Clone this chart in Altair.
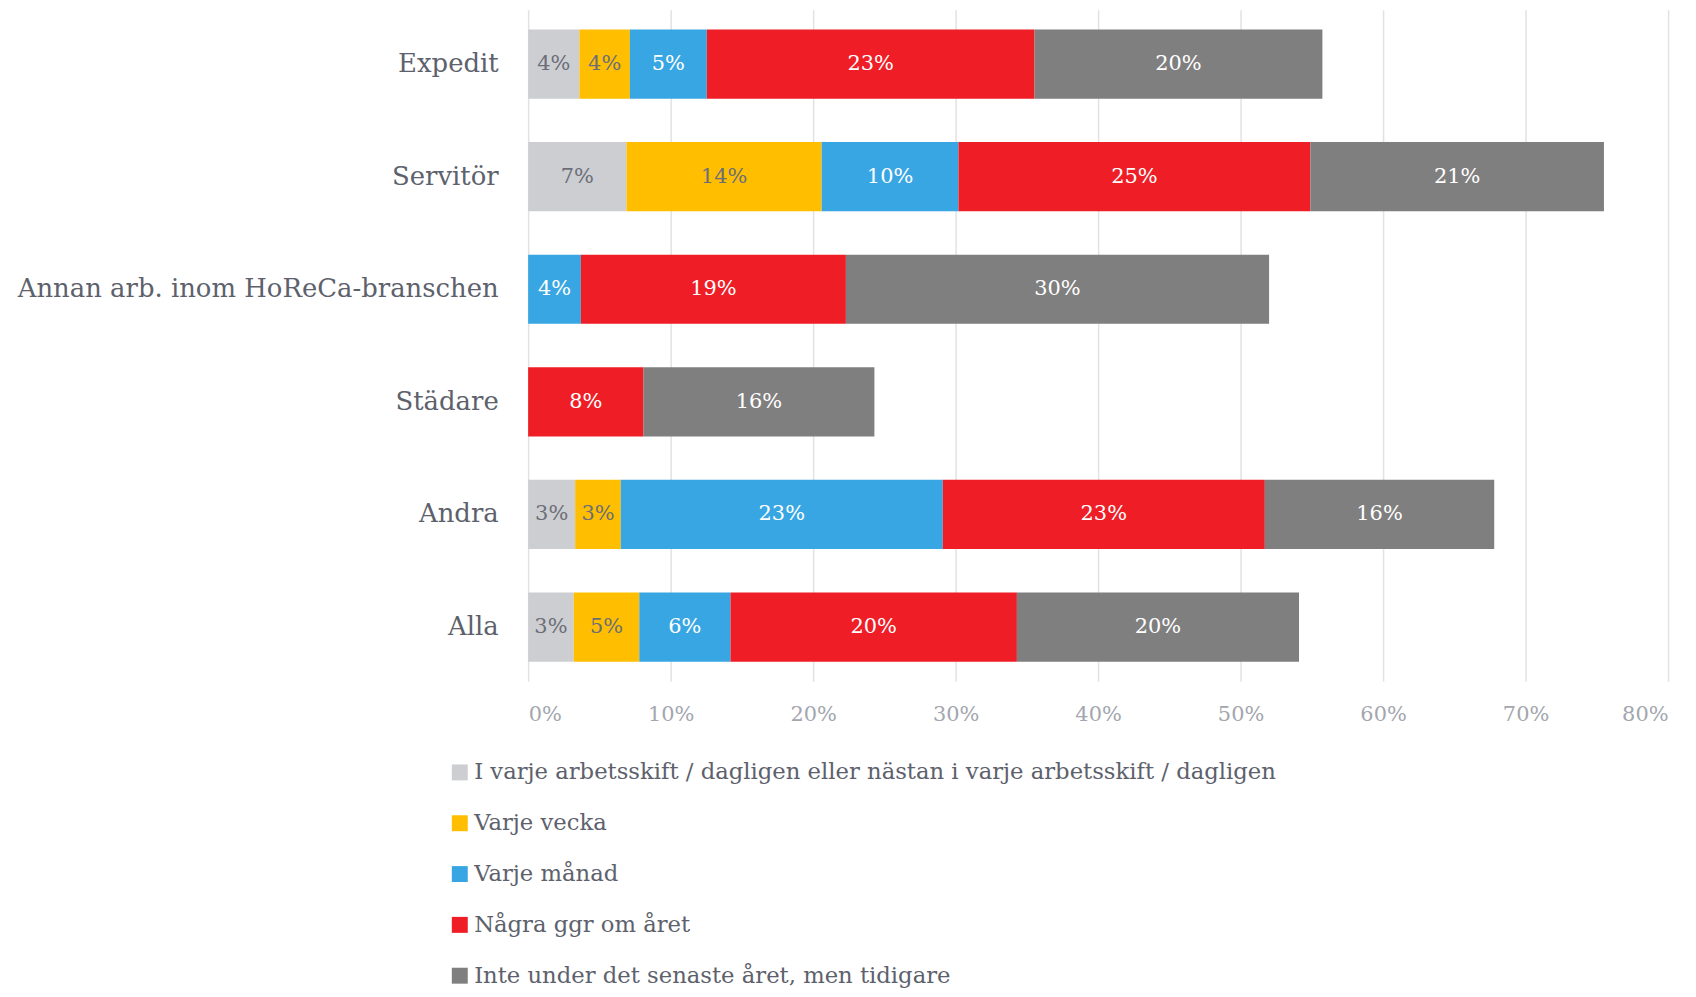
import altair as alt
import pandas as pd

categories = ["Expedit", "Servitör", "Annan arb. inom HoReCa-branschen", "Städare", "Andra", "Alla"]
series_names = [
    "I varje arbetsskift / dagligen eller nästan i varje arbetsskift / dagligen",
    "Varje vecka",
    "Varje månad",
    "Några ggr om året",
    "Inte under det senaste året, men tidigare",
]
daily   = [3.6, 6.9, 0.0, 0.0, 3.3, 3.2]
weekly  = [3.54, 13.7, 0.0, 0.0, 3.2, 4.6]
monthly = [5.4, 9.6, 3.7, 0.0, 22.6, 6.4]
yearly  = [23.0, 24.7, 18.6, 8.1, 22.6, 20.1]
earlier = [20.2, 20.6, 29.7, 16.2, 16.1, 19.8]
colors = ["#CDCED2", "#FFBF00", "#38A6E3", "#EE1D26", "#7F7F7F"]
ticks = [0, 0.1, 0.2, 0.3, 0.4, 0.5, 0.6, 0.7, 0.8]

FONT = "DejaVu Serif"

rows = []
for si, (name, vals) in enumerate(zip(series_names, [daily, weekly, monthly, yearly, earlier])):
    for c, v in zip(categories, vals):
        if v > 0:
            rows.append({"cat": c, "series": name, "order": si, "value": v / 100})
df = pd.DataFrame(rows)

base = alt.Chart(df).transform_stack(
    stack="value", groupby=["cat"], sort=[alt.SortField("order", "ascending")], as_=["x0", "x1"]
).transform_calculate(mid="(datum.x0 + datum.x1) / 2")

yenc = alt.Y("cat:N", sort=categories, title=None,
             scale=alt.Scale(paddingInner=0.385, paddingOuter=0.175))

bars = base.mark_bar().encode(
    x=alt.X("x0:Q", title=None, scale=alt.Scale(domain=[0, 0.8], nice=False),
            axis=alt.Axis(format=".0%", values=ticks)),
    x2="x1:Q",
    y=yenc,
    color=alt.Color("series:N", scale=alt.Scale(domain=series_names, range=colors),
                    legend=alt.Legend(title=None)),
)

text = base.mark_text(font=FONT, fontSize=21).encode(
    x="mid:Q",
    y=yenc,
    text=alt.Text("value:Q", format=".0%"),
    color=alt.condition("datum.order < 2", alt.value("#6b6e78"), alt.value("#ffffff")),
)

chart = alt.layer(bars, text).properties(
    width=1144, height=674,
    autosize=alt.AutoSizeParams(type="none"),
    padding={"left": 522, "top": 0, "right": 20, "bottom": 307},
).configure_view(stroke=None).configure_axisX(
    domain=False, ticks=False, grid=True, gridColor="#e2e2e2", gridWidth=1.5,
    labelFont=FONT, labelFontSize=21, labelColor="#a3a6ae", labelPadding=22,
).configure_axisY(
    domain=False, ticks=False, grid=False,
    labelFont=FONT, labelFontSize=26, labelColor="#5d616c", labelPadding=30, labelLimit=0,
).configure_legend(
    orient="none", legendX=-80, legendY=754, direction="vertical",
    symbolType="square", symbolSize=256, symbolStrokeWidth=0, symbolOpacity=1,
    labelFont=FONT, labelFontSize=22.8, labelColor="#5d616c", labelLimit=0,
    rowPadding=27, padding=0, labelOffset=3,
)

chart.save("out.html", embed_options={"renderer": "svg", "actions": False})
